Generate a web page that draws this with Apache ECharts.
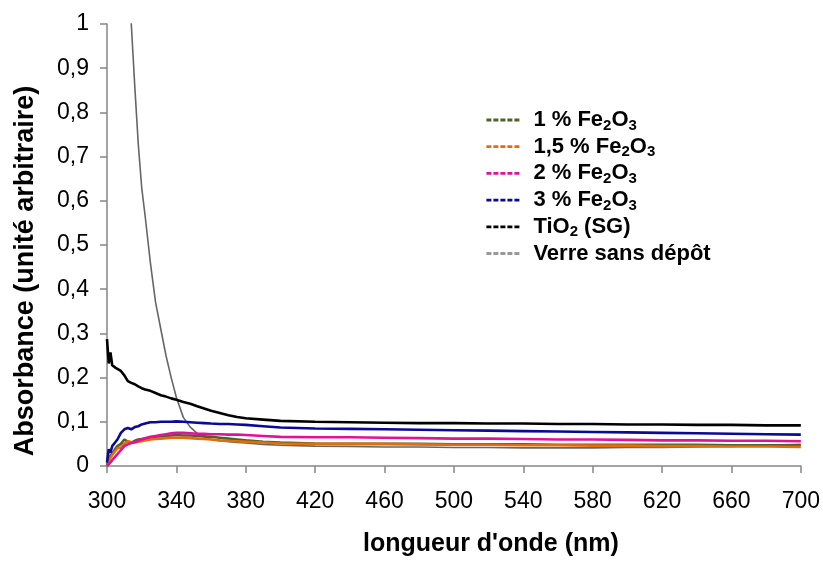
<!DOCTYPE html>
<html>
<head>
<meta charset="utf-8">
<script src="https://cdn.jsdelivr.net/npm/echarts@6/dist/echarts.min.js"></script>
<style>html,body{margin:0;padding:0;background:#fff;}#c{width:823px;height:562px;}</style>
</head>
<body>
<div id="c"></div>
<script>
const wavelengths = [300,301,302,303,304,305,306,308,310,312,314,316,318,320,322,325,328,331,334,337,340,344,348,352,356,360,365,370,375,380,390,400,420,440,460,480,500,520,540,560,580,600,620,640,660,680,700];

const fe1  = [0.0,0.019,0.015,0.028,0.034,0.04,0.045,0.05,0.06,0.055,0.053,0.057,0.06,0.061,0.063,0.064,0.066,0.067,0.068,0.069,0.07,0.069,0.069,0.068,0.067,0.066,0.064,0.062,0.06,0.058,0.055,0.053,0.051,0.05,0.05,0.05,0.049,0.049,0.049,0.048,0.048,0.048,0.048,0.048,0.047,0.047,0.047];
const fe15 = [0.0,0.005,0.019,0.025,0.03,0.035,0.04,0.042,0.05,0.056,0.054,0.053,0.055,0.056,0.058,0.06,0.061,0.062,0.063,0.064,0.064,0.064,0.063,0.062,0.061,0.06,0.058,0.057,0.056,0.055,0.053,0.051,0.05,0.05,0.05,0.049,0.048,0.048,0.047,0.047,0.046,0.046,0.045,0.045,0.044,0.044,0.043];
const fe2  = [0.0,0.004,0.008,0.012,0.018,0.022,0.027,0.036,0.045,0.049,0.052,0.054,0.057,0.06,0.062,0.066,0.068,0.07,0.072,0.074,0.075,0.075,0.074,0.073,0.073,0.072,0.072,0.071,0.071,0.07,0.068,0.066,0.065,0.065,0.064,0.063,0.062,0.062,0.061,0.06,0.06,0.059,0.058,0.058,0.057,0.057,0.056];
const fe3  = [0.008,0.038,0.03,0.045,0.045,0.055,0.06,0.075,0.083,0.086,0.083,0.088,0.09,0.094,0.096,0.099,0.099,0.1,0.1,0.1,0.101,0.1,0.099,0.098,0.097,0.096,0.095,0.095,0.094,0.093,0.09,0.087,0.085,0.084,0.083,0.082,0.081,0.08,0.079,0.078,0.077,0.076,0.075,0.074,0.073,0.072,0.071];
const tio2 = [0.287,0.232,0.257,0.228,0.232,0.222,0.22,0.215,0.205,0.192,0.188,0.185,0.18,0.176,0.173,0.17,0.165,0.16,0.157,0.153,0.15,0.145,0.141,0.135,0.13,0.125,0.12,0.115,0.111,0.108,0.105,0.102,0.1,0.099,0.098,0.097,0.097,0.096,0.096,0.095,0.095,0.094,0.094,0.093,0.093,0.092,0.092];
const verre = [null,null,null,null,null,null,null,null,null,1.15,1.0,0.86,0.73,0.63,0.565,0.46,0.37,0.31,0.25,0.2,0.155,0.11,0.088,0.074,0.066,0.06,0.057,0.055,0.053,0.052,0.049,0.047,0.045,0.044,0.043,0.043,0.042,0.042,0.041,0.041,0.041,0.042,0.042,0.043,0.044,0.047,0.049];

const seriesNames = ['1 % Fe2O3','1,5 % Fe2O3','2 % Fe2O3','3 % Fe2O3','TiO2 (SG)','Verre sans dépôt'];
const legendRich = {
  '1 % Fe2O3': '{sp| }{n|1 % Fe}{s|2}{n|O}{s|3}',
  '1,5 % Fe2O3': '{sp| }{n|1,5 % Fe}{s|2}{n|O}{s|3}',
  '2 % Fe2O3': '{sp| }{n|2 % Fe}{s|2}{n|O}{s|3}',
  '3 % Fe2O3': '{sp| }{n|3 % Fe}{s|2}{n|O}{s|3}',
  'TiO2 (SG)': '{sp| }{n|TiO}{s|2}{n| (SG)}',
  'Verre sans dépôt': '{sp| }{n|Verre sans dépôt}{s| }'
};
const colors = ['#4F6228','#E46C0A','#E3119A','#0A0A96','#000000','#999999'];
const lineColors = ['#4F6228','#E46C0A','#E3119A','#0A0A96','#000000','#666666'];
const values = [fe1, fe15, fe2, fe3, tio2, verre];

const FONT = 'Liberation Sans, Arial, sans-serif';
const chart = echarts.init(document.getElementById('c'), null, {renderer:'canvas'});

const series = seriesNames.map((name, i) => ({
  name: name,
  type: 'line',
  data: wavelengths.map((w, j) => [w, values[i][j]]),
  symbol: 'none',
  showSymbol: false,
  connectNulls: false,
  clip: true,
  z: i === 5 ? 1 : 2 + i,
  lineStyle: { color: lineColors[i], width: i === 5 ? 1.6 : 2.6 },
  itemStyle: { color: colors[i] },
  animation: false
}));

chart.setOption({
  animation: false,
  backgroundColor: '#ffffff',
  grid: { left: 107, right: 22, top: 24, bottom: 90, containLabel: false },
  legend: {
    left: 480, top: 102, orient: 'vertical',
    itemWidth: 35, itemHeight: 12, itemGap: 0.7,
    itemStyle: { opacity: 0 },
    data: seriesNames.map((n, i) => ({ name: n, itemStyle: { opacity: 0 }, lineStyle: { type: [5, 2], width: 2.8, color: colors[i] } })),
    formatter: (name) => legendRich[name],
    textStyle: {
      fontFamily: FONT, fontWeight: 'bold', fontSize: 22, color: '#000',
      rich: {
        sp: { fontSize: 10, width: 7, lineHeight: 26 },
        n: { fontFamily: FONT, fontWeight: 'bold', fontSize: 22, color: '#000', lineHeight: 24, padding: [2, 0, 0, 0], verticalAlign: 'top' },
        s: { fontFamily: FONT, fontWeight: 'bold', fontSize: 15, color: '#000', lineHeight: 26, verticalAlign: 'bottom' }
      }
    }
  },
  xAxis: {
    type: 'value', min: 300, max: 700, interval: 40,
    name: "longueur d'onde (nm)", nameLocation: 'middle', nameGap: 66,
    nameTextStyle: { fontFamily: FONT, fontWeight: 'bold', fontSize: 25, color: '#000', padding: [0, 0, 0, 74] },
    axisLine: { lineStyle: { color: '#868686', width: 1.5 } },
    axisTick: { show: true, length: 7, lineStyle: { color: '#868686', width: 1.5 } },
    axisLabel: { fontFamily: FONT, fontSize: 23, color: '#000', margin: 24 },
    splitLine: { show: false }
  },
  yAxis: {
    type: 'value', min: 0, max: 1, interval: 0.1,
    name: 'Absorbance (unité arbitraire)', nameLocation: 'middle', nameGap: 68,
    nameTextStyle: { fontFamily: FONT, fontWeight: 'bold', fontSize: 27, color: '#000', padding: [0, 52, 0, 0] },
    axisLine: { show: true, lineStyle: { color: '#868686', width: 1.5 } },
    axisTick: { show: true, length: 7, lineStyle: { color: '#868686', width: 1.5 } },
    axisLabel: { fontFamily: FONT, fontSize: 23, color: '#000', margin: 18,
      formatter: v => (v === 0 ? '0' : (Math.abs(v - 1) < 1e-9 ? '1' : v.toFixed(1).replace('.', ','))) },
    splitLine: { show: false }
  },
  series: series
});
</script>
</body>
</html>
